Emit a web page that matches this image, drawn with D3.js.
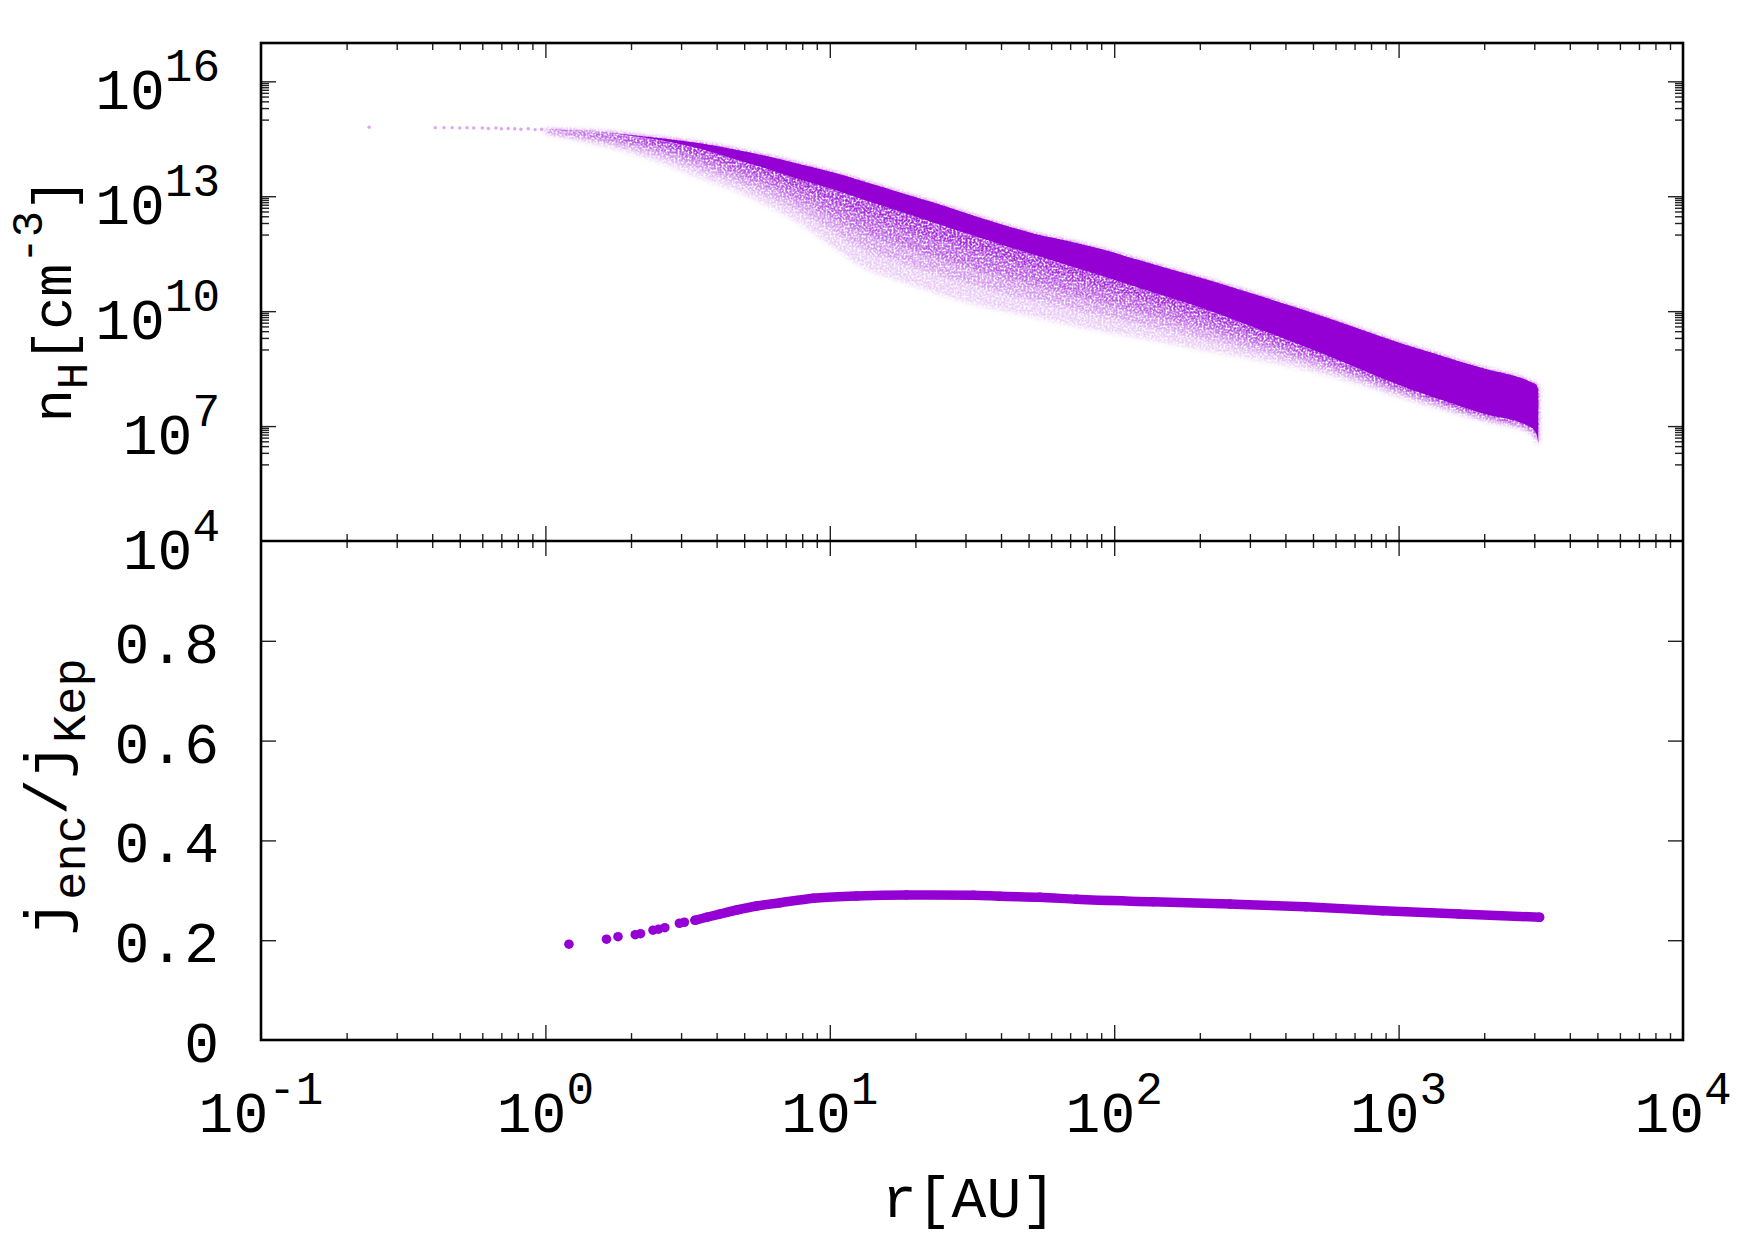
<!DOCTYPE html>
<html><head><meta charset="utf-8">
<script src="https://cdn.jsdelivr.net/npm/d3@7"></script>
<style>
body{margin:0;background:#fff}
text{font-family:"Liberation Mono","DejaVu Sans Mono",monospace;fill:#000}
</style>
</head><body>
<svg id="chart" width="1754" height="1241"></svg>
<script>
// ---------------- DATA ----------------
// Axis ticks
const xMajorTicks = [0.1, 1, 10, 100, 1000, 10000];
const xMajorExp   = ["-1", "0", "1", "2", "3", "4"];
const nMajorTicks = [1e4, 1e7, 1e10, 1e13, 1e16];
const nMajorExp   = ["4", "7", "10", "13", "16"];
const jTicks      = [0, 0.2, 0.4, 0.6, 0.8, 1.0];
const jTickLabels = ["0", "0.2", "0.4", "0.6", "0.8", ""];

// Top panel: density cloud envelopes (r in AU, log10 nH in cm^-3)
const bandR      = [1.0, 1.5, 2.0, 2.6, 3.5, 4.5, 6, 8, 10.3, 13, 18, 23, 30, 40, 52, 70, 90, 116, 150, 200, 300, 450, 700, 1000, 1500, 2000, 2900, 3050, 3100];
const upperLog   = [14.74,14.68,14.60,14.51,14.38,14.24,14.05,13.82,13.62,13.40,13.08,12.84,12.56,12.27,12.03,11.82,11.62,11.38,11.14,10.88,10.48,10.06,9.58,9.18,8.78,8.50,8.16,8.08,7.95];
const coreLowLog = [14.74,14.68,14.58,14.45,14.24,14.00,13.72,13.42,13.18,12.92,12.58,12.32,12.04,11.74,11.48,11.18,10.93,10.66,10.40,10.10,9.62,9.12,8.55,8.08,7.62,7.32,6.98,6.80,6.55];
const haloLowLog = [14.62,14.36,14.12,13.85,13.47,13.18,12.76,12.24,11.66,11.15,10.76,10.50,10.24,10.02,9.85,9.64,9.48,9.33,9.18,9.00,8.76,8.50,8.12,7.76,7.38,7.12,6.82,6.60,6.45];

// Top panel: isolated inner points
const sparseR    = [0.24, 0.41, 0.44, 0.47, 0.50, 0.53, 0.56, 0.60, 0.63, 0.67, 0.70, 0.74, 0.78, 0.82, 0.87, 0.92, 0.97];
const sparseNLog = [14.80,14.79,14.79,14.79,14.78,14.79,14.78,14.78,14.77,14.78,14.76,14.77,14.76,14.75,14.76,14.74,14.75];

// Bottom panel: j_enc / j_Kep
const jR   = [1.21, 1.64, 1.80, 2.07, 2.16, 2.39, 2.50, 2.63, 2.96, 3.08, 3.36, 3.69, 4.11, 4.71, 5.53, 6.68, 8.75, 12.4, 18.6, 32.0, 39.6, 54.8, 73.6, 137, 255, 472, 879, 1630, 3130];
const jVal = [0.192,0.202,0.207,0.211,0.213,0.220,0.222,0.225,0.234,0.236,0.240,0.246,0.2525,0.2605,0.2685,0.275,0.284,0.2886,0.2906,0.290,0.288,0.286,0.282,0.277,0.2725,0.267,0.259,0.2525,0.246];

// ---------------- LAYOUT ----------------
const W = 1754, H = 1241;
const L = 261, R = 1683, T = 43, M = 541, B = 1040;
const purple = "#9400d3";
const FS = 58, SUP = 46;

const svg = d3.select("#chart");
svg.append("rect").attr("width", W).attr("height", H).attr("fill", "#fff");

const x  = d3.scaleLog().domain([0.1, 1e4]).range([L, R]);
const yN = d3.scaleLog().domain([1e4, 1e17]).range([M, T]);
const yJ = d3.scaleLinear().domain([0, 1]).range([B, M]);

const defs = svg.append("defs");
defs.append("clipPath").attr("id", "clipTop").append("rect").attr("x", L).attr("y", T).attr("width", R - L).attr("height", M - T);
defs.append("clipPath").attr("id", "clipBot").append("rect").attr("x", L).attr("y", M).attr("width", R - L).attr("height", B - M);

// grain filter giving the fading part of the cloud a scattered-point texture
const f = defs.append("filter").attr("id", "grain")
  .attr("filterUnits", "userSpaceOnUse").attr("x", L).attr("y", T).attr("width", R - L).attr("height", M - T);
f.append("feGaussianBlur").attr("in", "SourceGraphic").attr("stdDeviation", 2.5).attr("result", "b");
f.append("feTurbulence").attr("type", "fractalNoise").attr("baseFrequency", 0.5).attr("numOctaves", 2).attr("seed", 4).attr("result", "n");
f.append("feColorMatrix").attr("in", "n").attr("type", "matrix")
  .attr("values", "0 0 0 0 0  0 0 0 0 0  0 0 0 0 0  0 0 0 -3 2.2").attr("result", "m");
f.append("feComposite").attr("in", "b").attr("in2", "m").attr("operator", "in");

// ---------------- TOP PANEL DATA ----------------
const gTop = svg.append("g").attr("clip-path", "url(#clipTop)");
const band = bandR.map((r, i) => ({ r, up: upperLog[i], core: coreLowLog[i], halo: haloLowLog[i] }));
const softLayers = [
  { t: 1.0,  op: 0.20 },
  { t: 0.72, op: 0.25 },
  { t: 0.48, op: 0.40 },
  { t: 0.22, op: 0.55 }
];
const gSoft = gTop.append("g").attr("filter", "url(#grain)");
function bandArea(t) {
  return d3.area().curve(d3.curveMonotoneX)
    .x(d => x(d.r))
    .y1(d => yN(Math.pow(10, d.up)))
    .y0(d => yN(Math.pow(10, d.core * (1 - t) + d.halo * t)));
}
softLayers.forEach(ly => {
  gSoft.append("path").datum(band).attr("d", bandArea(ly.t)).attr("fill", purple).attr("fill-opacity", ly.op);
});
gTop.append("path").datum(band).attr("d", bandArea(0)).attr("fill", purple);

gTop.selectAll("circle.sp").data(sparseR).join("circle")
  .attr("cx", d => x(d)).attr("cy", (d, i) => yN(Math.pow(10, sparseNLog[i])))
  .attr("r", 1.7).attr("fill", purple).attr("fill-opacity", 0.35);

// ---------------- BOTTOM PANEL DATA ----------------
const gBot = svg.append("g").attr("clip-path", "url(#clipBot)");
const jPts = jR.map((r, i) => ({ r, j: jVal[i] }));
const line = d3.line().curve(d3.curveMonotoneX).x(d => x(d.r)).y(d => yJ(d.j));
gBot.append("path").datum(jPts.filter(d => d.r >= 3.3)).attr("d", line)
  .attr("fill", "none").attr("stroke", purple).attr("stroke-width", 9.5).attr("stroke-linecap", "round");
gBot.selectAll("circle").data(jPts).join("circle")
  .attr("cx", d => x(d.r)).attr("cy", d => yJ(d.j)).attr("r", 4.8).attr("fill", purple);

// ---------------- AXES / TICKS ----------------
const xMinor = [];
for (let k = -1; k < 4; k++) for (let m = 2; m <= 9; m++) xMinor.push(m * Math.pow(10, k));
const nMinor = [];
nMajorTicks.forEach(v => { if (v > 1e4) for (let m = 1; m <= 9; m++) nMinor.push(m * v / 10); });

function styleAxis(g) {
  g.select(".domain").remove();
  g.selectAll(".tick text").remove();
  g.selectAll(".tick line").attr("stroke", "#222").attr("stroke-width", 1.4);
}
function addAxis(axisFn, scale, values, size, transform) {
  svg.append("g").attr("transform", transform)
    .call(axisFn(scale).tickValues(values).tickSize(-size).tickSizeOuter(0).tickFormat(""))
    .call(styleAxis);
}
[[d3.axisTop, T], [d3.axisBottom, M], [d3.axisTop, M], [d3.axisBottom, B]].forEach(([fn, yy]) => {
  addAxis(fn, x, xMajorTicks.slice(1, -1), 15, `translate(0,${yy})`);
  addAxis(fn, x, xMinor, 7, `translate(0,${yy})`);
});
addAxis(d3.axisLeft,  yN, nMajorTicks.slice(1), 15, `translate(${L},0)`);
addAxis(d3.axisLeft,  yN, nMinor, 8, `translate(${L},0)`);
addAxis(d3.axisRight, yN, nMajorTicks.slice(1), 15, `translate(${R},0)`);
addAxis(d3.axisRight, yN, nMinor, 8, `translate(${R},0)`);
addAxis(d3.axisLeft,  yJ, jTicks.slice(1, -1), 15, `translate(${L},0)`);
addAxis(d3.axisRight, yJ, jTicks.slice(1, -1), 15, `translate(${R},0)`);

svg.append("rect").attr("x", L).attr("y", T).attr("width", R - L).attr("height", B - T)
  .attr("fill", "none").attr("stroke", "#000").attr("stroke-width", 2.6);
svg.append("line").attr("x1", L).attr("x2", R).attr("y1", M).attr("y2", M)
  .attr("stroke", "#000").attr("stroke-width", 2.6);

// ---------------- TICK LABELS ----------------
function powLabel(g, xx, yy, exp, anchor) {
  const t = g.append("text").attr("x", xx).attr("y", yy).attr("text-anchor", anchor).attr("font-size", FS);
  t.append("tspan").text("10");
  t.append("tspan").attr("font-size", SUP).attr("dy", -28).text(exp);
}
const labels = svg.append("g");
xMajorTicks.forEach((v, i) => powLabel(labels, x(v), 1132, xMajorExp[i], "middle"));
nMajorTicks.forEach((v, i) => powLabel(labels, 220, yN(v) + 27.5, nMajorExp[i], "end"));
jTicks.forEach((v, i) => {
  if (!jTickLabels[i]) return;
  labels.append("text").attr("x", 219).attr("y", yJ(v) + 22).attr("text-anchor", "end")
    .attr("font-size", FS).text(jTickLabels[i]);
});

// ---------------- AXIS TITLES ----------------
svg.append("text").attr("x", 969).attr("y", 1217).attr("text-anchor", "middle").attr("font-size", FS).text("r[AU]");

const t1 = svg.append("text").attr("transform", "translate(71,300) rotate(-90)")
  .attr("text-anchor", "middle").attr("font-size", 55);
t1.append("tspan").text("n");
t1.append("tspan").attr("font-size", 44).attr("dy", 16).text("H");
t1.append("tspan").attr("dy", -16).text("[cm");
t1.append("tspan").attr("font-size", 44).attr("dy", -29).text("-3");
t1.append("tspan").attr("dy", 29).text("]");

const t2 = svg.append("text").attr("transform", "translate(66,797) rotate(-90)")
  .attr("text-anchor", "middle").attr("font-size", 60);
t2.append("tspan").text("j");
t2.append("tspan").attr("font-size", 47).attr("dy", 19).text("enc");
t2.append("tspan").attr("dy", -19).text("/j");
t2.append("tspan").attr("font-size", 47).attr("dy", 19).text("Kep");
</script>
</body></html>
